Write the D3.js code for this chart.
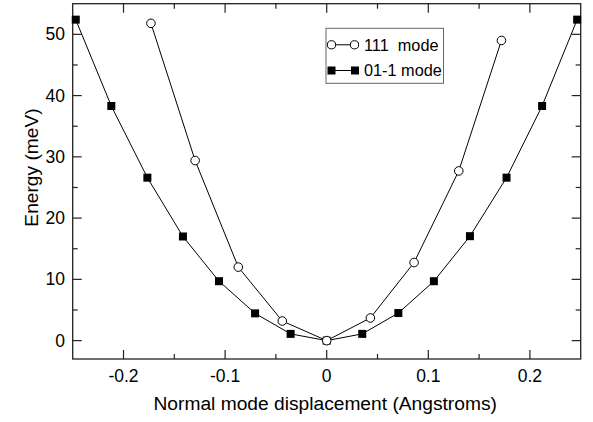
<!DOCTYPE html>
<html><head><meta charset="utf-8">
<script src="https://cdn.jsdelivr.net/npm/d3@7"></script>
<style>body{margin:0;background:#fff}svg{display:block}text{font-family:"Liberation Sans",Arial,Helvetica,sans-serif;fill:#000}</style>
</head><body>
<svg id="c" width="593" height="422"></svg>
<script>
// 01-1 mode (filled squares)
const sqX = [-0.247, -0.212, -0.1765, -0.1415, -0.106, -0.0705, -0.0355, 0.0, 0.035, 0.0705, 0.1055, 0.141, 0.177, 0.212, 0.2465];
const sqY = [52.4, 38.3, 26.6, 17.0, 9.7, 4.45, 1.1, 0.0, 1.1, 4.5, 9.7, 17.05, 26.6, 38.3, 52.4];
// 111 mode (open circles)
const ciX = [-0.173, -0.1295, -0.087, -0.0437, 0.0, 0.043, 0.086, 0.130, 0.172];
const ciY = [51.8, 29.4, 12.0, 3.2, 0.0, 3.7, 12.75, 27.7, 49.0];
const xTicks = [-0.2, -0.1, 0, 0.1, 0.2];
const xTickLabels = ["-0.2", "-0.1", "0", "0.1", "0.2"];
const xMinor = [-0.25, -0.15, -0.05, 0.05, 0.15, 0.25];
const yTicks = [0, 10, 20, 30, 40, 50];
const yMinor = [5, 15, 25, 35, 45];
const legendLabels = ["111  mode", "01-1 mode"];
const xTitle = "Normal mode displacement (Angstroms)";
const yTitle = "Energy (meV)";

const svg = d3.select("#c");
const L = 72.7, R = 580.7, T = 3.7, B = 359;
const x = d3.scaleLinear().domain([-0.25, 0.25]).range([L, R]);
const y = d3.scaleLinear().domain([-3, 55]).range([B, T]);

const fr = svg.append("g");
const MAJ = 9, MIN = 5;
// ticks on all sides, inward
function xt(vals, len) {
  vals.forEach(v => {
    if (Math.abs(v) > 0.2499) return;
    fr.append("line").attr("x1", x(v)).attr("x2", x(v)).attr("y1", B).attr("y2", B - len).attr("stroke", "#222").attr("stroke-width", 1.2);
    fr.append("line").attr("x1", x(v)).attr("x2", x(v)).attr("y1", T).attr("y2", T + len).attr("stroke", "#222").attr("stroke-width", 1.2);
  });
}
function yt(vals, len) {
  vals.forEach(v => {
    fr.append("line").attr("y1", y(v)).attr("y2", y(v)).attr("x1", L).attr("x2", L + len).attr("stroke", "#222").attr("stroke-width", 1.2);
    fr.append("line").attr("y1", y(v)).attr("y2", y(v)).attr("x1", R).attr("x2", R - len).attr("stroke", "#222").attr("stroke-width", 1.2);
  });
}
xt(xTicks, MAJ); xt(xMinor, MIN); yt(yTicks, MAJ); yt(yMinor, MIN);
fr.append("rect").attr("x", L).attr("y", T).attr("width", R - L).attr("height", B - T)
  .attr("fill", "none").attr("stroke", "#222").attr("stroke-width", 1.3);

// tick labels
svg.append("g").selectAll("text").data(xTicks).join("text")
  .attr("x", d => x(d)).attr("y", 382.3).attr("text-anchor", "middle").attr("font-size", 17.5)
  .text((d, i) => xTickLabels[i]);
svg.append("g").selectAll("text").data(yTicks).join("text")
  .attr("x", 65).attr("y", d => y(d)).attr("dy", "0.35em").attr("text-anchor", "end").attr("font-size", 17.5)
  .text(d => d);

// titles
svg.append("text").attr("x", (L + R) / 2 - 1.5).attr("y", 410).attr("text-anchor", "middle").attr("font-size", 19.2).text(xTitle);
svg.append("text").attr("transform", "translate(38,167.5) rotate(-90)").attr("text-anchor", "middle").attr("font-size", 19.2).text(yTitle);

// series
const line = d3.line().x(d => x(d[0])).y(d => y(d[1]));
const sq = sqX.map((v, i) => [v, sqY[i]]);
const ci = ciX.map((v, i) => [v, ciY[i]]);
const plot = svg.append("g");
plot.append("path").attr("d", line(sq)).attr("fill", "none").attr("stroke", "#000").attr("stroke-width", 1);
plot.append("path").attr("d", line(ci)).attr("fill", "none").attr("stroke", "#000").attr("stroke-width", 1);
const S = 8;
plot.selectAll("rect.sq").data(sq).join("rect").attr("class", "sq")
  .attr("x", d => x(d[0]) - S / 2).attr("y", d => y(d[1]) - S / 2).attr("width", S).attr("height", S).attr("fill", "#000");
plot.selectAll("circle.ci").data(ci).join("circle").attr("class", "ci")
  .attr("cx", d => x(d[0])).attr("cy", d => y(d[1])).attr("r", 4.3).attr("fill", "#fff").attr("stroke", "#000").attr("stroke-width", 1);

// legend
const lg = svg.append("g");
lg.append("rect").attr("x", 326).attr("y", 28.3).attr("width", 117.5).attr("height", 55).attr("fill", "#fff").attr("stroke", "#666").attr("stroke-width", 1);
const rows = [44.8, 70.5];
lg.append("line").attr("x1", 331.5).attr("x2", 354.5).attr("y1", rows[0]).attr("y2", rows[0]).attr("stroke", "#000");
[331.5, 354.5].forEach(cx => lg.append("circle").attr("cx", cx).attr("cy", rows[0]).attr("r", 4.1).attr("fill", "#fff").attr("stroke", "#000"));
lg.append("line").attr("x1", 331.5).attr("x2", 355).attr("y1", rows[1]).attr("y2", rows[1]).attr("stroke", "#000");
[331.5, 355].forEach(cx => lg.append("rect").attr("x", cx - 4).attr("y", rows[1] - 4).attr("width", 8).attr("height", 8).attr("fill", "#000"));
lg.selectAll("text").data(legendLabels).join("text").attr("x", 364).attr("y", (d, i) => [50.5, 75.5][i])
  .attr("font-size", 16.3).attr("xml:space", "preserve").style("white-space", "pre").text(d => d);
</script>
</body></html>
